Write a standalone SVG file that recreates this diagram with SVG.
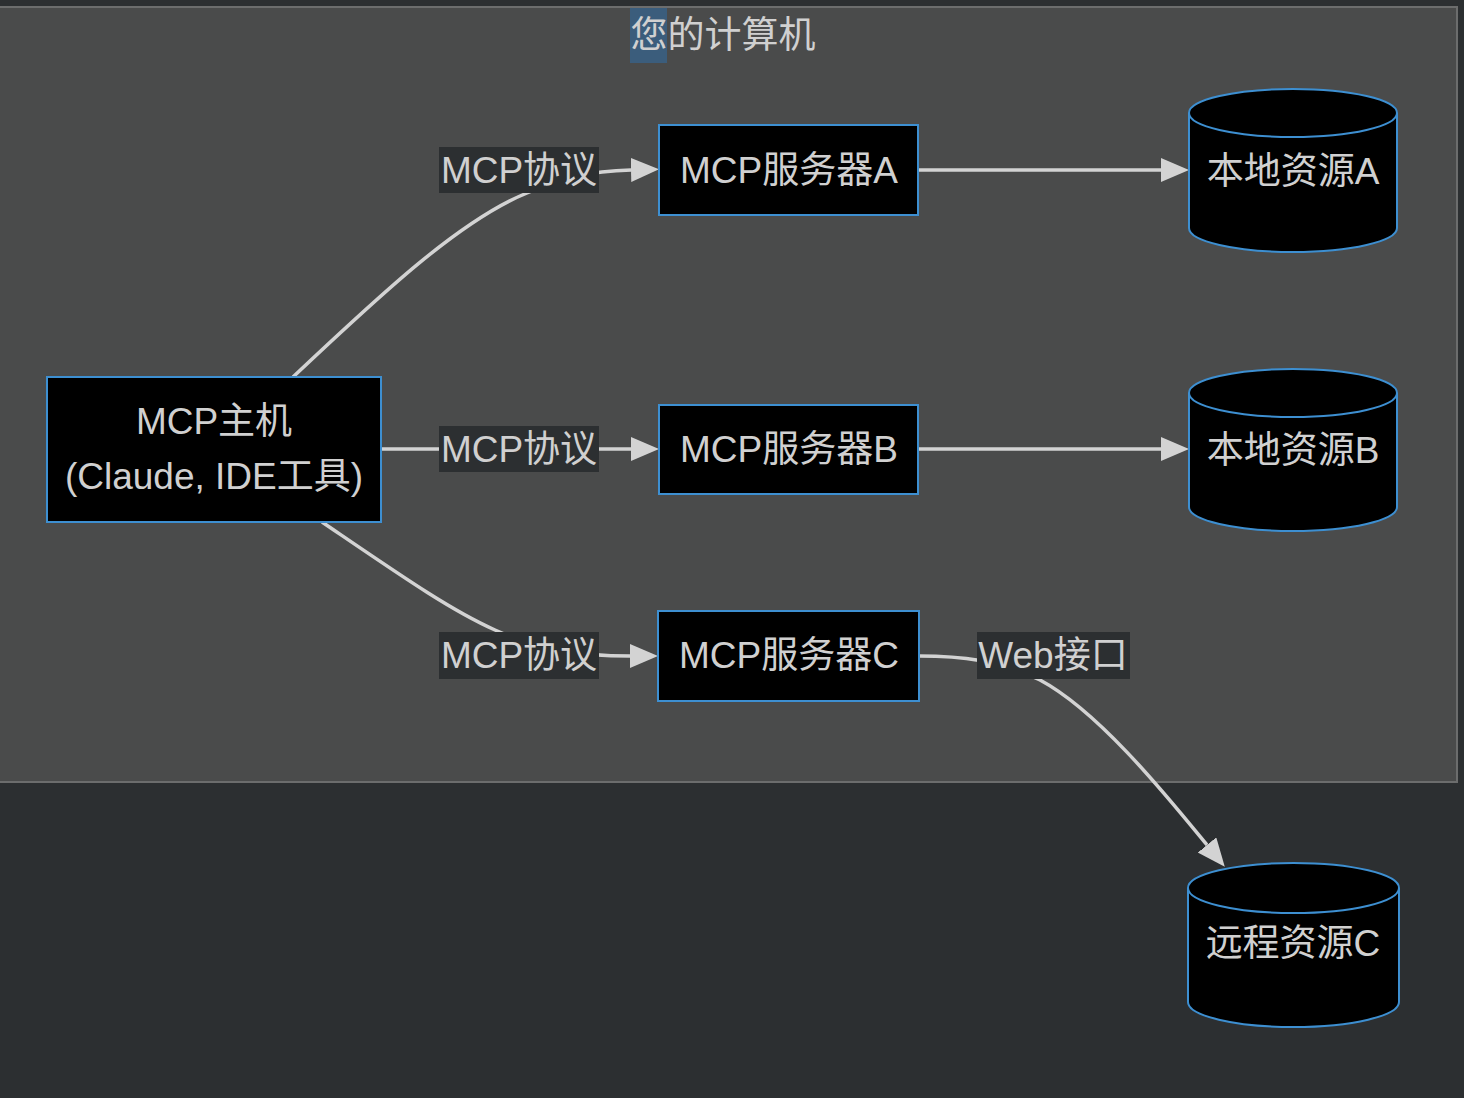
<svg xmlns="http://www.w3.org/2000/svg" width="1464" height="1098" viewBox="0 0 1464 1098">
<defs>
<style>
.t{font-family:"Liberation Sans","Noto Sans CJK SC",sans-serif;font-size:37px;fill:#d0d0d0;text-anchor:middle}
.box{fill:#000;stroke:#3d8fd1;stroke-width:2}
.edge{fill:none;stroke:#d3d3d3;stroke-width:3.5}
.lbl{fill:#2c2f31}
</style>
<marker id="arr" markerUnits="userSpaceOnUse" markerWidth="30" markerHeight="26" refX="0" refY="12" orient="auto">
<path d="M0,0 L28,12 L0,24 z" fill="#d3d3d3"/>
</marker>
</defs>
<rect x="0" y="0" width="1464" height="1098" fill="#2c2f31"/>
<g id="cluster">
<rect x="-2" y="7" width="1459" height="775" fill="#4a4b4b" stroke="#6c6d6d" stroke-width="2"/>
<rect x="630" y="8" width="37" height="55" fill="#3b5d7c"/>
<text class="t" x="723" y="48">您的计算机</text>
</g>
<g id="connectors">
<path class="edge" d="M293,377 C380,295 460,220 527,193 C560,178 590,171 631,170" marker-end="url(#arr)"/>
<path class="edge" d="M381,449 L631,449" marker-end="url(#arr)"/>
<path class="edge" d="M322,522 C400,575 450,610 495,630 C540,650 580,656 630,656" marker-end="url(#arr)"/>
<path class="edge" d="M919,170 L1161,170" marker-end="url(#arr)"/>
<path class="edge" d="M919,449 L1161,449" marker-end="url(#arr)"/>
<path class="edge" d="M919,656 C960,656 1000,660 1040,680 C1100,712 1170,800 1207,845" marker-end="url(#arr)"/>
<g id="labels">
<rect class="lbl" x="439" y="147" width="160" height="46"/>
<text class="t" x="519" y="183">MCP协议</text>
<rect class="lbl" x="439" y="426" width="160" height="46"/>
<text class="t" x="519" y="462">MCP协议</text>
<rect class="lbl" x="439" y="632" width="160" height="47"/>
<text class="t" x="519" y="668">MCP协议</text>
<rect class="lbl" x="977" y="632" width="153" height="47"/>
<text class="t" x="1053" y="668">Web接口</text>
</g>
</g>
<g id="host">
<rect class="box" x="47" y="377" width="334" height="145"/>
<text class="t" x="214" y="434">MCP主机</text>
<text class="t" x="214" y="489">(Claude, IDE工具)</text>
</g>
<g id="serverA">
<rect class="box" x="659" y="125" width="259" height="90"/>
<text class="t" x="789" y="183">MCP服务器A</text>
</g>
<g id="serverB">
<rect class="box" x="659" y="405" width="259" height="89"/>
<text class="t" x="789" y="462">MCP服务器B</text>
</g>
<g id="serverC">
<rect class="box" x="658" y="611" width="261" height="90"/>
<text class="t" x="789" y="668">MCP服务器C</text>
</g>
<g id="resA">
<path class="box" d="M1189,113 a104,24 0 0,0 208,0 a104,24 0 0,0 -208,0 l0,115 a104,24 0 0,0 208,0 l0,-115"/>
<text class="t" x="1293" y="184">本地资源A</text>
</g>
<g id="resB">
<path class="box" d="M1189,393 a104,24 0 0,0 208,0 a104,24 0 0,0 -208,0 l0,114 a104,24 0 0,0 208,0 l0,-114"/>
<text class="t" x="1293" y="463">本地资源B</text>
</g>
<g id="resC">
<path class="box" d="M1188,888 a105.5,25 0 0,0 211,0 a105.5,25 0 0,0 -211,0 l0,114 a105.5,25 0 0,0 211,0 l0,-114"/>
<text class="t" x="1293" y="956">远程资源C</text>
</g>
</svg>
